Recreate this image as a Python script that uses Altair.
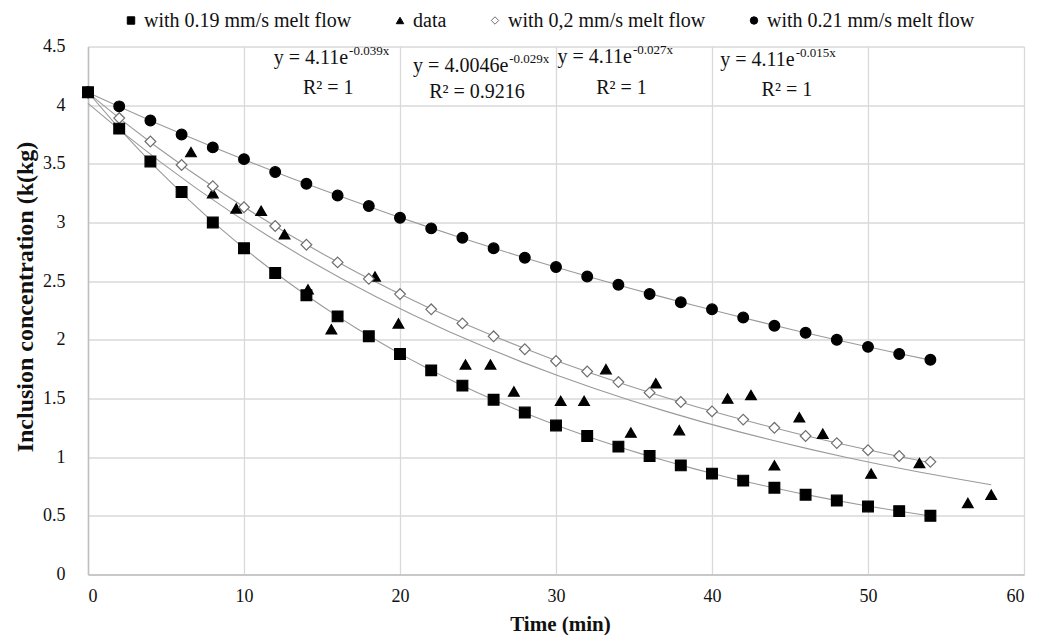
import altair as alt
import pandas as pd

# ---- data ----
S1 = "with 0.19 mm/s melt flow"
S2 = "data"
S3 = "with 0,2 mm/s melt flow"
S4 = "with 0.21 mm/s melt flow"
series_order = [S1, S2, S3, S4]

model_x = [0, 2, 4, 6, 8, 10, 12, 14, 16, 18, 20, 22, 24, 26, 28,
           30, 32, 34, 36, 38, 40, 42, 44, 46, 48, 50, 52, 54]
sq_y = [4.11, 3.80, 3.52, 3.26, 3.00, 2.78, 2.57, 2.38, 2.20, 2.03, 1.88, 1.74, 1.61, 1.49,
        1.38, 1.27, 1.18, 1.09, 1.01, 0.93, 0.86, 0.80, 0.74, 0.68, 0.63, 0.58, 0.54, 0.50]
dia_y = [4.11, 3.89, 3.69, 3.49, 3.31, 3.13, 2.97, 2.81, 2.66, 2.52, 2.39, 2.26, 2.14, 2.03,
         1.92, 1.82, 1.73, 1.64, 1.55, 1.47, 1.39, 1.32, 1.25, 1.18, 1.12, 1.06, 1.01, 0.96]
cir_y = [4.11, 3.99, 3.87, 3.75, 3.64, 3.54, 3.43, 3.33, 3.23, 3.14, 3.04, 2.95, 2.87, 2.78,
         2.70, 2.62, 2.54, 2.47, 2.39, 2.32, 2.26, 2.19, 2.12, 2.06, 2.00, 1.94, 1.88, 1.83]

data_x = [0, 6.6, 8.0, 9.5, 11.1, 12.6, 14.1, 15.6, 18.4, 19.9, 24.2, 25.8, 27.3, 30.3,
          31.8, 33.2, 34.8, 36.4, 37.9, 41.0, 42.5, 44.0, 45.6, 47.1, 50.2, 53.3, 56.4, 57.9]
data_y = [4.11, 3.60, 3.25, 3.12, 3.10, 2.90, 2.43, 2.09, 2.54, 2.14, 1.79, 1.79, 1.56, 1.48,
          1.48, 1.75, 1.21, 1.63, 1.23, 1.50, 1.53, 0.93, 1.34, 1.20, 0.86, 0.95, 0.61, 0.68]

eq_x = [16.67, 26.94, 34.87, 45.3]
eq_y = [4.40, 4.33, 4.41, 4.385]
eq_base = ["y = 4.11e", "y = 4.0046e", "y = 4.11e", "y = 4.11e"]
eq_sup = ["-0.039x", "-0.029x", "-0.027x", "-0.015x"]
r2_x = [15.4, 24.94, 34.2, 44.8]
r2_y = [4.144, 4.11, 4.144, 4.13]
r2_text = ["R² = 1", "R² = 0.9216", "R² = 1", "R² = 1"]

x_ticks = [0, 10, 20, 30, 40, 50, 60]
y_ticks = [0, 0.5, 1, 1.5, 2, 2.5, 3, 3.5, 4, 4.5]

# ---- tables ----
rows = []
for xv, yv in zip(data_x, data_y):
    rows.append({"x": xv, "y": yv, "series": S2})
for s, ys in [(S3, dia_y), (S4, cir_y), (S1, sq_y)]:
    for xv, yv in zip(model_x, ys):
        rows.append({"x": xv, "y": yv, "series": s})
pts = pd.DataFrame(rows)

eq_df = pd.DataFrame({"x": eq_x, "y": eq_y, "base": eq_base, "sup": eq_sup})
r2_df = pd.DataFrame({"x": r2_x, "y": r2_y, "txt": r2_text})

FONT = "Liberation Serif"
GRID = "#d9d9d9"
INK = "#111111"

xenc = alt.X("x:Q", scale=alt.Scale(domain=[0, 60], nice=False, zero=False),
             axis=alt.Axis(values=x_ticks, title="Time (min)", grid=True, ticks=False, tickSize=0,
                           labelPadding=13, labelFontSize=18, labelFont=FONT, labelColor=INK,
                           titleFont=FONT, titleFontSize=21, titleFontWeight="bold", titleColor=INK,
                           titleX=472, titleY=56, titleBaseline="alphabetic", titleAlign="center",
                           domainColor="#bfbfbf", domainWidth=1.5, gridColor=GRID, gridWidth=1.3))
yenc = alt.Y("y:Q", scale=alt.Scale(domain=[0, 4.5], nice=False, zero=False),
             axis=alt.Axis(values=y_ticks, format="~g", title="Inclusion concentration (k(kg)",
                           grid=True, ticks=False, tickSize=0, labelPadding=23, labelFontSize=18,
                           labelFont=FONT, labelColor=INK,
                           titleFont=FONT, titleFontSize=24, titleFontWeight="bold", titleColor=INK,
                           titleX=-63, titleY=250, titleAngle=270, titleBaseline="middle",
                           titleAlign="center",
                           domainColor="#bfbfbf", domainWidth=1.5, gridColor=GRID, gridWidth=1.3))

base = alt.Chart(pts)

model_lines = base.transform_filter(
    alt.datum.series != S2
).transform_regression(
    "x", "y", method="exp", groupby=["series"], extent=[0, 54]
).mark_line(color="#9a9a9a", strokeWidth=1.1).encode(x=xenc, y=yenc, detail="series:N")

data_line = base.transform_filter(
    alt.datum.series == S2
).transform_regression(
    "x", "y", method="exp", extent=[0, 57.9]
).mark_line(color="#9a9a9a", strokeWidth=1.1).encode(x=xenc, y=yenc)

legend = alt.Legend(title=None, orient="none", legendX=33, legendY=-36, direction="horizontal",
                    labelFont=FONT, labelFontSize=20, labelColor=INK, labelLimit=0, symbolSize=55,
                    columnPadding=38, labelOffset=3, padding=0, symbolStrokeWidth=1)

points = base.mark_point(filled=True, size=115, strokeWidth=1.2, opacity=1).encode(
    x=xenc, y=yenc,
    shape=alt.Shape("series:N", scale=alt.Scale(domain=series_order,
                    range=["square", "triangle-up", "diamond", "circle"]), legend=legend),
    fill=alt.Fill("series:N", scale=alt.Scale(domain=series_order,
                  range=["black", "black", "white", "black"]), legend=legend),
    stroke=alt.Stroke("series:N", scale=alt.Scale(domain=series_order,
                      range=["black", "black", "#6e6e6e", "black"]), legend=legend),
)

eq_base_t = alt.Chart(eq_df).mark_text(align="right", baseline="middle", font=FONT,
                                       fontSize=20, color=INK).encode(x=xenc, y=yenc, text="base:N")
eq_sup_t = alt.Chart(eq_df).mark_text(align="left", baseline="middle", font=FONT, fontSize=13,
                                      dx=1, dy=-7, color=INK).encode(x=xenc, y=yenc, text="sup:N")
r2_t = alt.Chart(r2_df).mark_text(align="center", baseline="middle", font=FONT,
                                  fontSize=20, color=INK).encode(x=xenc, y=yenc, text="txt:N")

chart = alt.layer(model_lines, data_line, points, eq_base_t, eq_sup_t, r2_t).properties(
    width=936, height=528,
    autosize=alt.AutoSizeParams(type="none"),
    padding={"left": 80, "top": 38.5, "right": 5, "bottom": 60.5},
).configure(
    background="white", font=FONT
).configure_view(
    stroke=None
).configure_axis(
    labelFont=FONT, titleFont=FONT
).configure_legend(
    labelFont=FONT, labelLimit=0
).configure_text(font=FONT)

chart.save("out.html", embed_options={"renderer": "svg", "actions": False})
